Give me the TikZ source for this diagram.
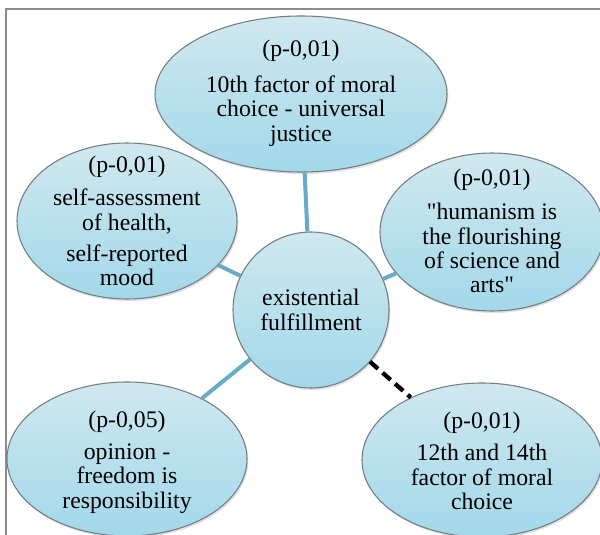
\documentclass[tikz,border=0pt]{standalone}
\usepackage{fontspec}
\setmainfont{Liberation Serif}
\newfontfamily\qfont{Liberation Serif}
\newcommand{\sq}{{\qfont\symbol{34}}}
\usetikzlibrary{shapes.geometric,shadows}
\definecolor{bubtop}{RGB}{208,232,239}
\definecolor{bubbot}{RGB}{162,216,234}
\definecolor{bubline}{RGB}{115,125,130}
\definecolor{linkc}{RGB}{100,172,200}
\definecolor{framec}{RGB}{140,140,140}
\tikzset{
 bubble/.style={ellipse, draw=bubline, line width=0.8pt, top color=bubtop, bottom color=bubbot, inner sep=0pt,
   drop shadow={opacity=0.25,shadow xshift=1pt,shadow yshift=-1.5pt}},
 btext/.style={align=center, font=\fontsize{17.8}{18.3}\selectfont, inner sep=0pt, text=black},
 linkline/.style={draw=linkc, line width=3pt},
 dashlink/.style={draw=black, line width=3.2pt, dash pattern=on 8pt off 4.5pt},
}
\begin{document}
\begin{tikzpicture}[x=0.75pt,y=-0.75pt]
\useasboundingbox (0,0) rectangle (600,535);
\clip (0,0) rectangle (600,535);
\fill[white] (0,0) rectangle (600,535);
\draw[framec, line width=1.5pt] (6,545) -- (6,9) -- (610,9);

\node[bubble, minimum width=219pt, minimum height=117pt] (top) at (301,94) {};
\node[bubble, minimum width=165pt, minimum height=117pt] (ul) at (127,221) {};
\node[bubble, minimum width=168pt, minimum height=118.5pt] (ri) at (492,232) {};
\node[bubble, minimum width=117pt, minimum height=117pt] (cen) at (311,310) {};
\node[bubble, minimum width=180pt, minimum height=115.5pt] (bl) at (127,459) {};
\node[bubble, minimum width=180pt, minimum height=115.5pt] (br) at (482,460) {};

\draw[linkline] (cen) -- (top);
\draw[linkline] (cen) -- (ul);
\draw[linkline] (cen) -- (ri);
\draw[linkline] (cen) -- (bl);
\draw[dashlink] (cen) -- (br);

\node[btext] (ttop) at (301,93) {(p-0,01)\\[9pt]10th factor of moral\\choice - universal\\justice};
\node[btext] (tul) at (127,221) {(p-0,01)\\[6.5pt]self-assessment\\of health,\\[5pt]self-reported\\mood};
\node[btext] (tri) at (492,231) {(p-0,01)\\[7.5pt]\sq humanism is\\the flourishing\\of science and\\arts\sq};
\node[btext] (tcen) at (311,310) {existential\\fulfillment};
\node[btext] (tbl) at (127,462) {(p-0,05)\\[6pt]opinion -\\freedom is\\responsibility};
\node[btext] (tbr) at (482,461) {(p-0,01)\\[6pt]12th and 14th\\factor of moral\\choice};
\end{tikzpicture}
\end{document}
